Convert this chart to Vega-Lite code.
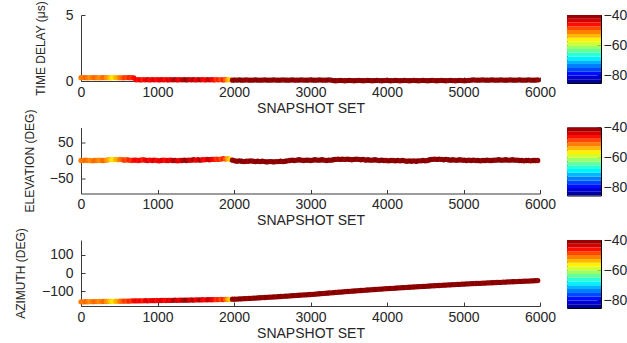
{
  "$schema": "https://vega.github.io/schema/vega-lite/v6.json",
  "background": "white",
  "padding": {"left": 14, "top": 0, "right": 5, "bottom": 5},
  "config": {
    "font": "Liberation Sans",
    "view": {"stroke": null},
    "axis": {
      "grid": false,
      "domainColor": "#3a3a3a",
      "tickColor": "#3a3a3a",
      "labelColor": "#262626",
      "titleColor": "#262626",
      "labelFontSize": 14,
      "titleFontWeight": "normal",
      "tickSize": -4,
      "labelPadding": 12,
      "labelFlush": false,
      "format": "d"
    },
    "axisX": {"titleFontSize": 14, "titlePadding": 2, "labelPadding": 8},
    "axisY": {"titleFontSize": 12, "titlePadding": 14}
  },
  "datasets": {
    "snap": [
      {"s":0,"td":0.25,"el":0,"az":-157,"p":-51},
      {"s":30,"td":0.26,"el":0,"az":-157,"p":-51},
      {"s":60,"td":0.25,"el":1,"az":-156.5,"p":-50},
      {"s":90,"td":0.24,"el":0,"az":-157,"p":-51},
      {"s":120,"td":0.25,"el":0,"az":-156,"p":-52},
      {"s":150,"td":0.26,"el":-1,"az":-156.5,"p":-51},
      {"s":180,"td":0.25,"el":0,"az":-156,"p":-50},
      {"s":210,"td":0.25,"el":0,"az":-156,"p":-51},
      {"s":240,"td":0.24,"el":1,"az":-155.5,"p":-52},
      {"s":270,"td":0.25,"el":0,"az":-156,"p":-51},
      {"s":300,"td":0.26,"el":0,"az":-155,"p":-50},
      {"s":330,"td":0.25,"el":1,"az":-155.5,"p":-52},
      {"s":360,"td":0.25,"el":2,"az":-155,"p":-53},
      {"s":390,"td":0.24,"el":3,"az":-154,"p":-55},
      {"s":420,"td":0.25,"el":2,"az":-155,"p":-56},
      {"s":450,"td":0.26,"el":3,"az":-154,"p":-54},
      {"s":480,"td":0.25,"el":2,"az":-154.5,"p":-53},
      {"s":510,"td":0.25,"el":3,"az":-154,"p":-51},
      {"s":540,"td":0.24,"el":2,"az":-153.5,"p":-50},
      {"s":570,"td":0.25,"el":1,"az":-153,"p":-48},
      {"s":600,"td":0.26,"el":2,"az":-153.5,"p":-49},
      {"s":630,"td":0.25,"el":1,"az":-153,"p":-47},
      {"s":660,"td":0.25,"el":0,"az":-152.5,"p":-48},
      {"s":690,"td":0.24,"el":1,"az":-152,"p":-46},
      {"s":720,"td":0.09,"el":1,"az":-152.5,"p":-45},
      {"s":750,"td":0.1,"el":0,"az":-152,"p":-46},
      {"s":780,"td":0.08,"el":1,"az":-151.5,"p":-45},
      {"s":810,"td":0.1,"el":2,"az":-152,"p":-47},
      {"s":840,"td":0.09,"el":1,"az":-151,"p":-45},
      {"s":870,"td":0.1,"el":0,"az":-151.5,"p":-44},
      {"s":900,"td":0.08,"el":1,"az":-151,"p":-46},
      {"s":930,"td":0.1,"el":0,"az":-150.5,"p":-45},
      {"s":960,"td":0.09,"el":1,"az":-151,"p":-44},
      {"s":990,"td":0.1,"el":0,"az":-150,"p":-46},
      {"s":1020,"td":0.08,"el":-1,"az":-150.5,"p":-45},
      {"s":1050,"td":0.1,"el":0,"az":-150,"p":-44},
      {"s":1080,"td":0.09,"el":1,"az":-149.5,"p":-45},
      {"s":1110,"td":0.1,"el":0,"az":-150,"p":-46},
      {"s":1140,"td":0.08,"el":0,"az":-149,"p":-44},
      {"s":1170,"td":0.1,"el":1,"az":-149.5,"p":-45},
      {"s":1200,"td":0.09,"el":0,"az":-149,"p":-43},
      {"s":1230,"td":0.1,"el":0,"az":-148.5,"p":-42},
      {"s":1260,"td":0.08,"el":-1,"az":-149,"p":-44},
      {"s":1290,"td":0.1,"el":0,"az":-148,"p":-45},
      {"s":1320,"td":0.09,"el":0,"az":-148.5,"p":-43},
      {"s":1350,"td":0.1,"el":1,"az":-148,"p":-42},
      {"s":1380,"td":0.08,"el":0,"az":-147.5,"p":-41},
      {"s":1410,"td":0.1,"el":1,"az":-148,"p":-43},
      {"s":1440,"td":0.09,"el":1,"az":-147,"p":-44},
      {"s":1470,"td":0.1,"el":2,"az":-147.5,"p":-42},
      {"s":1500,"td":0.08,"el":1,"az":-147,"p":-45},
      {"s":1530,"td":0.1,"el":2,"az":-146.5,"p":-44},
      {"s":1560,"td":0.09,"el":1,"az":-147,"p":-42},
      {"s":1590,"td":0.1,"el":2,"az":-146,"p":-45},
      {"s":1620,"td":0.08,"el":2,"az":-146.5,"p":-46},
      {"s":1650,"td":0.1,"el":3,"az":-146,"p":-44},
      {"s":1680,"td":0.09,"el":2,"az":-145.5,"p":-43},
      {"s":1710,"td":0.1,"el":3,"az":-146,"p":-45},
      {"s":1740,"td":0.08,"el":3,"az":-145,"p":-46},
      {"s":1770,"td":0.1,"el":4,"az":-145.5,"p":-48},
      {"s":1800,"td":0.09,"el":3,"az":-145,"p":-47},
      {"s":1830,"td":0.1,"el":4,"az":-144.5,"p":-49},
      {"s":1860,"td":0.08,"el":5,"az":-145,"p":-47},
      {"s":1890,"td":0.1,"el":4,"az":-144,"p":-50},
      {"s":1920,"td":0.09,"el":5,"az":-144.5,"p":-53},
      {"s":1950,"td":0.1,"el":3,"az":-144,"p":-55},
      {"s":1980,"td":0.06,"el":1,"az":-143,"p":-41},
      {"s":2010,"td":0.07,"el":-1,"az":-143,"p":-40.5},
      {"s":2040,"td":0.07,"el":-2,"az":-142.3,"p":-41},
      {"s":2070,"td":0.08,"el":-1,"az":-141.6,"p":-40.5},
      {"s":2100,"td":0.06,"el":-2,"az":-140.8,"p":-40},
      {"s":2130,"td":0.07,"el":-3,"az":-140.1,"p":-41},
      {"s":2160,"td":0.08,"el":-2,"az":-139.4,"p":-40.5},
      {"s":2190,"td":0.07,"el":-2,"az":-138.7,"p":-41.5},
      {"s":2220,"td":0.06,"el":-1,"az":-138,"p":-40},
      {"s":2250,"td":0.07,"el":-2,"az":-137.2,"p":-41},
      {"s":2280,"td":0.08,"el":-3,"az":-136.5,"p":-40.5},
      {"s":2310,"td":0.07,"el":-2,"az":-135.8,"p":-40},
      {"s":2340,"td":0.06,"el":-3,"az":-135,"p":-41},
      {"s":2370,"td":0.07,"el":-2,"az":-134.3,"p":-40.5},
      {"s":2400,"td":0.08,"el":-3,"az":-133.6,"p":-41},
      {"s":2430,"td":0.07,"el":-4,"az":-132.9,"p":-40},
      {"s":2460,"td":0.06,"el":-3,"az":-132.1,"p":-40.5},
      {"s":2490,"td":0.07,"el":-3,"az":-131.4,"p":-41},
      {"s":2520,"td":0.08,"el":-4,"az":-130.6,"p":-40},
      {"s":2550,"td":0.07,"el":-3,"az":-129.8,"p":-41},
      {"s":2580,"td":0.06,"el":-3,"az":-128.9,"p":-40.5},
      {"s":2610,"td":0.07,"el":-2,"az":-128.1,"p":-40},
      {"s":2640,"td":0.08,"el":-3,"az":-127.3,"p":-41},
      {"s":2670,"td":0.07,"el":-2,"az":-126.4,"p":-40.5},
      {"s":2700,"td":0.06,"el":-1,"az":-125.6,"p":-40},
      {"s":2730,"td":0.07,"el":0,"az":-124.8,"p":-41},
      {"s":2760,"td":0.08,"el":1,"az":-123.9,"p":-40.5},
      {"s":2790,"td":0.07,"el":0,"az":-123.1,"p":-40},
      {"s":2820,"td":0.06,"el":1,"az":-122.3,"p":-41},
      {"s":2850,"td":0.07,"el":2,"az":-121.4,"p":-40.5},
      {"s":2880,"td":0.08,"el":1,"az":-120.6,"p":-40},
      {"s":2910,"td":0.07,"el":0,"az":-119.8,"p":-41},
      {"s":2940,"td":0.06,"el":1,"az":-118.9,"p":-40.5},
      {"s":2970,"td":0.07,"el":1,"az":-118.1,"p":-40},
      {"s":3000,"td":0.08,"el":0,"az":-117.3,"p":-41},
      {"s":3030,"td":0.07,"el":1,"az":-116.3,"p":-40.5},
      {"s":3060,"td":0.06,"el":2,"az":-115.3,"p":-40},
      {"s":3090,"td":0.07,"el":1,"az":-114.3,"p":-41},
      {"s":3120,"td":0.08,"el":1,"az":-113.2,"p":-40.5},
      {"s":3150,"td":0.07,"el":2,"az":-112.2,"p":-40},
      {"s":3180,"td":0.06,"el":1,"az":-111.2,"p":-41},
      {"s":3210,"td":0.07,"el":0,"az":-110.2,"p":-40.5},
      {"s":3240,"td":0.08,"el":1,"az":-109.2,"p":-40},
      {"s":3270,"td":0.07,"el":1,"az":-108.2,"p":-41},
      {"s":3300,"td":0.03,"el":2,"az":-107.1,"p":-40.5},
      {"s":3330,"td":0.02,"el":3,"az":-106.1,"p":-40},
      {"s":3360,"td":0.03,"el":4,"az":-105.1,"p":-41},
      {"s":3390,"td":0.04,"el":3,"az":-104.1,"p":-40.5},
      {"s":3420,"td":0.03,"el":4,"az":-103.1,"p":-40},
      {"s":3450,"td":0.02,"el":3,"az":-102,"p":-41},
      {"s":3480,"td":0.03,"el":4,"az":-101,"p":-40.5},
      {"s":3510,"td":0.04,"el":3,"az":-100,"p":-40},
      {"s":3540,"td":0.03,"el":2,"az":-99.1,"p":-41},
      {"s":3570,"td":0.02,"el":3,"az":-98.2,"p":-40.5},
      {"s":3600,"td":0.03,"el":4,"az":-97.3,"p":-40},
      {"s":3630,"td":0.04,"el":3,"az":-96.4,"p":-41},
      {"s":3660,"td":0.03,"el":2,"az":-95.5,"p":-40.5},
      {"s":3690,"td":0.02,"el":3,"az":-94.6,"p":-40},
      {"s":3720,"td":0.03,"el":1,"az":-93.7,"p":-41},
      {"s":3750,"td":0.04,"el":2,"az":-92.8,"p":-40.5},
      {"s":3780,"td":0.03,"el":1,"az":-91.9,"p":-40},
      {"s":3810,"td":0.02,"el":1,"az":-91,"p":-41},
      {"s":3840,"td":0.03,"el":2,"az":-90.1,"p":-40.5},
      {"s":3870,"td":0.04,"el":1,"az":-89.2,"p":-40},
      {"s":3900,"td":0.03,"el":0,"az":-88.3,"p":-41},
      {"s":3930,"td":0.02,"el":1,"az":-87.4,"p":-40.5},
      {"s":3960,"td":0.03,"el":0,"az":-86.5,"p":-40},
      {"s":3990,"td":0.04,"el":0,"az":-85.6,"p":-41},
      {"s":4020,"td":0.03,"el":-1,"az":-84.8,"p":-40.5},
      {"s":4050,"td":0.02,"el":0,"az":-84,"p":-40},
      {"s":4080,"td":0.03,"el":0,"az":-83.3,"p":-41},
      {"s":4110,"td":0.04,"el":-1,"az":-82.5,"p":-40.5},
      {"s":4140,"td":0.03,"el":0,"az":-81.7,"p":-40},
      {"s":4170,"td":0.02,"el":-1,"az":-80.9,"p":-41},
      {"s":4200,"td":0.03,"el":0,"az":-80.2,"p":-40.5},
      {"s":4230,"td":0.04,"el":-1,"az":-79.4,"p":-40},
      {"s":4260,"td":0.03,"el":-2,"az":-78.6,"p":-41},
      {"s":4290,"td":0.02,"el":-1,"az":-77.8,"p":-40.5},
      {"s":4320,"td":0.03,"el":-2,"az":-77,"p":-40},
      {"s":4350,"td":0.04,"el":-1,"az":-76.3,"p":-41},
      {"s":4380,"td":0.03,"el":-2,"az":-75.5,"p":-40.5},
      {"s":4410,"td":0.02,"el":-1,"az":-74.7,"p":-40},
      {"s":4440,"td":0.03,"el":-1,"az":-73.9,"p":-41},
      {"s":4470,"td":0.04,"el":0,"az":-73.2,"p":-40.5},
      {"s":4500,"td":0.03,"el":-1,"az":-72.4,"p":-40},
      {"s":4530,"td":0.02,"el":0,"az":-71.7,"p":-41},
      {"s":4560,"td":0.03,"el":2,"az":-71,"p":-40.5},
      {"s":4590,"td":0.04,"el":3,"az":-70.2,"p":-40},
      {"s":4620,"td":0.03,"el":4,"az":-69.5,"p":-41},
      {"s":4650,"td":0.02,"el":3,"az":-68.8,"p":-40.5},
      {"s":4680,"td":0.03,"el":4,"az":-68.1,"p":-40},
      {"s":4710,"td":0.04,"el":3,"az":-67.4,"p":-41},
      {"s":4740,"td":0.03,"el":2,"az":-66.6,"p":-40.5},
      {"s":4770,"td":0.02,"el":3,"az":-65.9,"p":-40},
      {"s":4800,"td":0.03,"el":2,"az":-65.2,"p":-41},
      {"s":4830,"td":0.04,"el":1,"az":-64.5,"p":-40.5},
      {"s":4860,"td":0.03,"el":2,"az":-63.7,"p":-40},
      {"s":4890,"td":0.02,"el":1,"az":-63,"p":-41},
      {"s":4920,"td":0.03,"el":1,"az":-62.3,"p":-40.5},
      {"s":4950,"td":0.04,"el":2,"az":-61.6,"p":-40},
      {"s":4980,"td":0.03,"el":1,"az":-60.9,"p":-41},
      {"s":5010,"td":0.02,"el":1,"az":-60.3,"p":-40.5},
      {"s":5040,"td":0.03,"el":0,"az":-59.7,"p":-40},
      {"s":5070,"td":0.04,"el":1,"az":-59.1,"p":-41},
      {"s":5100,"td":0.07,"el":0,"az":-58.5,"p":-40.5},
      {"s":5130,"td":0.08,"el":1,"az":-57.9,"p":-40},
      {"s":5160,"td":0.07,"el":0,"az":-57.3,"p":-41},
      {"s":5190,"td":0.06,"el":0,"az":-56.7,"p":-40.5},
      {"s":5220,"td":0.07,"el":-1,"az":-56.1,"p":-40},
      {"s":5250,"td":0.08,"el":0,"az":-55.5,"p":-41},
      {"s":5280,"td":0.07,"el":0,"az":-54.9,"p":-40.5},
      {"s":5310,"td":0.06,"el":1,"az":-54.3,"p":-40},
      {"s":5340,"td":0.07,"el":0,"az":-53.7,"p":-41},
      {"s":5370,"td":0.08,"el":0,"az":-53.1,"p":-40.5},
      {"s":5400,"td":0.07,"el":1,"az":-52.5,"p":-40},
      {"s":5430,"td":0.06,"el":1,"az":-51.9,"p":-41},
      {"s":5460,"td":0.07,"el":2,"az":-51.3,"p":-40.5},
      {"s":5490,"td":0.08,"el":1,"az":-50.7,"p":-40},
      {"s":5520,"td":0.07,"el":1,"az":-50.1,"p":-41},
      {"s":5550,"td":0.06,"el":2,"az":-49.5,"p":-40.5},
      {"s":5580,"td":0.07,"el":1,"az":-48.9,"p":-40},
      {"s":5610,"td":0.08,"el":1,"az":-48.4,"p":-41},
      {"s":5640,"td":0.07,"el":2,"az":-47.8,"p":-40.5},
      {"s":5670,"td":0.06,"el":1,"az":-47.2,"p":-40},
      {"s":5700,"td":0.07,"el":1,"az":-46.6,"p":-41},
      {"s":5730,"td":0.08,"el":0,"az":-46.1,"p":-40.5},
      {"s":5760,"td":0.07,"el":0,"az":-45.5,"p":-40},
      {"s":5790,"td":0.06,"el":-1,"az":-44.9,"p":-41},
      {"s":5820,"td":0.07,"el":0,"az":-44.3,"p":-40.5},
      {"s":5850,"td":0.08,"el":0,"az":-43.8,"p":-40},
      {"s":5880,"td":0.07,"el":-1,"az":-43.2,"p":-41},
      {"s":5910,"td":0.06,"el":0,"az":-42.6,"p":-40.5},
      {"s":5940,"td":0.07,"el":0,"az":-42,"p":-40},
      {"s":5970,"td":0.08,"el":0,"az":-41.5,"p":-41}
    ],
    "bar": [
      {"lo":-85,"hi":-82.5,"p":-83.75},
      {"lo":-82.5,"hi":-80,"p":-81.25},
      {"lo":-80,"hi":-77.5,"p":-78.75},
      {"lo":-77.5,"hi":-75,"p":-76.25},
      {"lo":-75,"hi":-72.5,"p":-73.75},
      {"lo":-72.5,"hi":-70,"p":-71.25},
      {"lo":-70,"hi":-67.5,"p":-68.75},
      {"lo":-67.5,"hi":-65,"p":-66.25},
      {"lo":-65,"hi":-62.5,"p":-63.75},
      {"lo":-62.5,"hi":-60,"p":-61.25},
      {"lo":-60,"hi":-57.5,"p":-58.75},
      {"lo":-57.5,"hi":-55,"p":-56.25},
      {"lo":-55,"hi":-52.5,"p":-53.75},
      {"lo":-52.5,"hi":-50,"p":-51.25},
      {"lo":-50,"hi":-47.5,"p":-48.75},
      {"lo":-47.5,"hi":-45,"p":-46.25},
      {"lo":-45,"hi":-42.5,"p":-43.75},
      {"lo":-42.5,"hi":-40,"p":-41.25}
    ]
  },
  "columns": 2,
  "spacing": {"row": 44.5, "column": 27},
  "bounds": "flush",
  "concat": [
    {
      "width": 459,
      "height": 66,
      "data": {"name": "snap"},
      "mark": {"type": "circle", "size": 28, "opacity": 1},
      "encoding": {
        "x": {"field": "s", "type": "quantitative", "scale": {"domain": [0, 6000], "nice": false}, "axis": {"values": [0, 1000, 2000, 3000, 4000, 5000, 6000], "title": "SNAPSHOT SET"}},
        "y": {"field": "td", "type": "quantitative", "scale": {"domain": [0, 5], "nice": false, "zero": false}, "axis": {"values": [0, 5], "title": "TIME DELAY (μs)", "titlePadding": 18}},
        "color": {"field": "p", "type": "quantitative", "scale": {"domain": [-85, -79.375, -68.125, -56.875, -45.625, -40], "range": ["#000080", "#0000ff", "#00ffff", "#ffff00", "#ff0000", "#800000"], "interpolate": "rgb"}, "legend": null}
      }
    },
    {
      "width": 34,
      "height": 68,
      "data": {"name": "bar"},
      "view": {"stroke": "#000000", "strokeWidth": 1},
      "mark": {"type": "rect"},
      "encoding": {
        "y": {"field": "lo", "type": "quantitative", "scale": {"domain": [-85, -40], "nice": false, "zero": false}, "axis": {"orient": "right", "values": [-80, -60, -40], "title": null, "domain": false, "tickColor": "#000000", "labelPadding": 6}},
        "y2": {"field": "hi"},
        "color": {"field": "p", "type": "quantitative", "scale": {"domain": [-85, -79.375, -68.125, -56.875, -45.625, -40], "range": ["#000080", "#0000ff", "#00ffff", "#ffff00", "#ff0000", "#800000"], "interpolate": "rgb"}, "legend": null}
      }
    },
    {
      "width": 459,
      "height": 66,
      "data": {"name": "snap"},
      "mark": {"type": "circle", "size": 28, "opacity": 1},
      "encoding": {
        "x": {"field": "s", "type": "quantitative", "scale": {"domain": [0, 6000], "nice": false}, "axis": {"values": [0, 1000, 2000, 3000, 4000, 5000, 6000], "title": "SNAPSHOT SET"}},
        "y": {"field": "el", "type": "quantitative", "scale": {"domain": [-90, 90], "nice": false, "zero": false}, "axis": {"values": [-50, 0, 50], "title": "ELEVATION (DEG)", "titlePadding": 13}},
        "color": {"field": "p", "type": "quantitative", "scale": {"domain": [-85, -79.375, -68.125, -56.875, -45.625, -40], "range": ["#000080", "#0000ff", "#00ffff", "#ffff00", "#ff0000", "#800000"], "interpolate": "rgb"}, "legend": null}
      }
    },
    {
      "width": 34,
      "height": 68,
      "data": {"name": "bar"},
      "view": {"stroke": "#000000", "strokeWidth": 1},
      "mark": {"type": "rect"},
      "encoding": {
        "y": {"field": "lo", "type": "quantitative", "scale": {"domain": [-85, -40], "nice": false, "zero": false}, "axis": {"orient": "right", "values": [-80, -60, -40], "title": null, "domain": false, "tickColor": "#000000", "labelPadding": 6}},
        "y2": {"field": "hi"},
        "color": {"field": "p", "type": "quantitative", "scale": {"domain": [-85, -79.375, -68.125, -56.875, -45.625, -40], "range": ["#000080", "#0000ff", "#00ffff", "#ffff00", "#ff0000", "#800000"], "interpolate": "rgb"}, "legend": null}
      }
    },
    {
      "width": 459,
      "height": 66,
      "data": {"name": "snap"},
      "mark": {"type": "circle", "size": 28, "opacity": 1},
      "encoding": {
        "x": {"field": "s", "type": "quantitative", "scale": {"domain": [0, 6000], "nice": false}, "axis": {"values": [0, 1000, 2000, 3000, 4000, 5000, 6000], "title": "SNAPSHOT SET"}},
        "y": {"field": "az", "type": "quantitative", "scale": {"domain": [-180, 180], "nice": false, "zero": false}, "axis": {"values": [-100, 0, 100], "title": "AZIMUTH (DEG)", "titlePadding": 14}},
        "color": {"field": "p", "type": "quantitative", "scale": {"domain": [-85, -79.375, -68.125, -56.875, -45.625, -40], "range": ["#000080", "#0000ff", "#00ffff", "#ffff00", "#ff0000", "#800000"], "interpolate": "rgb"}, "legend": null}
      }
    },
    {
      "width": 34,
      "height": 68,
      "data": {"name": "bar"},
      "view": {"stroke": "#000000", "strokeWidth": 1},
      "mark": {"type": "rect"},
      "encoding": {
        "y": {"field": "lo", "type": "quantitative", "scale": {"domain": [-85, -40], "nice": false, "zero": false}, "axis": {"orient": "right", "values": [-80, -60, -40], "title": null, "domain": false, "tickColor": "#000000", "labelPadding": 6}},
        "y2": {"field": "hi"},
        "color": {"field": "p", "type": "quantitative", "scale": {"domain": [-85, -79.375, -68.125, -56.875, -45.625, -40], "range": ["#000080", "#0000ff", "#00ffff", "#ffff00", "#ff0000", "#800000"], "interpolate": "rgb"}, "legend": null}
      }
    }
  ]
}
